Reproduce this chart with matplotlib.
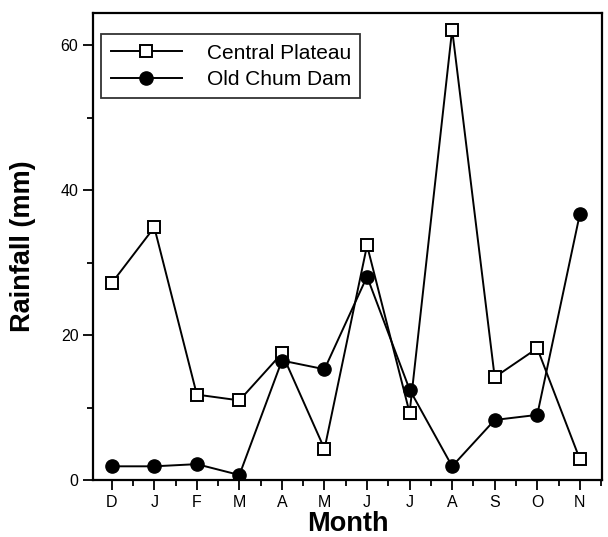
import numpy as np
from matplotlib import pyplot as plt
from matplotlib.ticker import MultipleLocator

plt.rcParams['font.family'] = ['Liberation Sans', 'DejaVu Sans']

months = ['D', 'J', 'F', 'M', 'A', 'M', 'J', 'J', 'A', 'S', 'O', 'N']
central_plateau = [27.2, 34.9, 11.8, 11.0, 17.5, 4.3, 32.4, 9.3, 62.2, 14.2, 18.2, 2.9]
old_chum_dam = [1.9, 1.9, 2.2, 0.7, 16.5, 15.3, 28.1, 12.5, 1.9, 8.3, 9.0, 36.7]

x = np.arange(len(months))

fig = plt.figure(figsize=(6.08, 5.37), dpi=100)
ax = fig.add_axes([0.153, 0.106, 0.837, 0.870])

ax.plot(x, central_plateau, color='black', lw=1.4, marker='s', ms=8.5,
        mfc='white', mec='black', mew=1.4, label='Central Plateau', zorder=3)
ax.plot(x, old_chum_dam, color='black', lw=1.4, marker='o', ms=9.5,
        mfc='black', mec='black', label='Old Chum Dam', zorder=3)

ax.set_xlim(-0.44, 11.52)
ax.set_ylim(0, 64.5)
ax.set_xticks(x, months)
ax.xaxis.set_minor_locator(MultipleLocator(0.5))
ax.yaxis.set_major_locator(MultipleLocator(20))
ax.yaxis.set_minor_locator(MultipleLocator(10))
ax.tick_params(axis='both', which='major', direction='out', length=7, width=1.3,
               labelsize=11.5)
ax.tick_params(axis='both', which='minor', direction='out', length=4, width=1.3)
for s in ax.spines.values():
    s.set_linewidth(1.6)

ax.set_xlabel('Month', fontsize=19.5, fontweight='bold', labelpad=1)
ax.set_ylabel('Rainfall (mm)', fontsize=19.5, fontweight='bold', labelpad=18)

leg = ax.legend(loc='upper left', bbox_to_anchor=(0.0, 0.972), fontsize=15,
                frameon=True, fancybox=False, edgecolor='black', handlelength=3.4,
                handletextpad=1.2, borderpad=0.45, labelspacing=0.35,
                borderaxespad=0.4)
leg.get_frame().set_linewidth(1.3)

fig.savefig('out.png', dpi=100)
